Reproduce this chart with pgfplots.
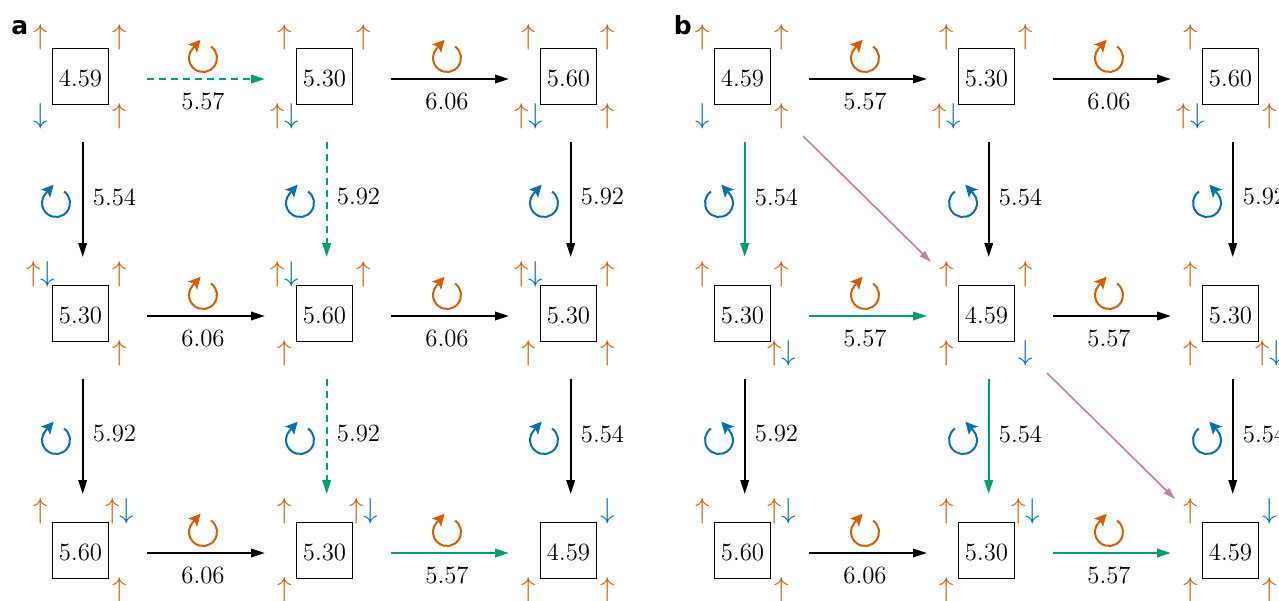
\documentclass[border=0pt]{standalone}
\usepackage{pgfplots}
\usepackage{pgfplotstable}
\pgfplotsset{compat=1.18}
\usepackage{fontspec}
\newfontfamily\dejavu{DejaVu Sans}
\usetikzlibrary{arrows.meta}
\definecolor{cor}{HTML}{D55E00}
\definecolor{cbl}{HTML}{0072B2}
\definecolor{cgr}{HTML}{009E73}
\definecolor{cpk}{HTML}{CC79A7}

% box centres
\pgfplotstableread{
x y
80.5 76.5
324.5 76.5
568.5 76.5
80.5 313.5
324.5 313.5
568.5 313.5
80.5 550.5
324.5 550.5
568.5 550.5
742.5 76.5
986.5 76.5
1230.5 76.5
742.5 313.5
986.5 313.5
1230.5 313.5
742.5 550.5
986.5 550.5
1230.5 550.5
}\boxes
% box values
\pgfplotstableread{
x y lab
80.5 78.3 4.59
324.5 78.3 5.30
568.5 78.3 5.60
80.5 315.3 5.30
324.5 315.3 5.60
568.5 315.3 5.30
80.5 552.3 5.60
324.5 552.3 5.30
568.5 552.3 4.59
742.5 78.3 4.59
986.5 78.3 5.30
1230.5 78.3 5.60
742.5 315.3 5.30
986.5 315.3 4.59
1230.5 315.3 5.30
742.5 552.3 5.60
986.5 552.3 5.30
1230.5 552.3 4.59
}\boxlabels
% horizontal transition values
\pgfplotstableread{
x y lab
203 101.5 5.57
447 101.5 6.06
203 338.5 6.06
447 338.5 6.06
203 575.5 6.06
447 575.5 5.57
865 101.5 5.57
1109 101.5 6.06
865 338.5 5.57
1109 338.5 5.57
865 575.5 6.06
1109 575.5 5.57
}\hlabels
% vertical transition values
\pgfplotstableread{
x y lab
92.5 197 5.54
336.5 197 5.92
580.5 197 5.92
92.5 434 5.92
336.5 434 5.92
580.5 434 5.54
754.5 197 5.54
998.5 197 5.54
1242.5 197 5.92
754.5 434 5.92
998.5 434 5.54
1242.5 434 5.54
}\vlabels
% single up arrows
\pgfplotstableread{
x y
40.5 37.5
119.5 37.5
119.5 116
284.5 37.5
363.5 37.5
528.5 37.5
607.5 37.5
607.5 116
119.5 274.5
119.5 353
363.5 274.5
284.5 353
607.5 274.5
528.5 353
607.5 353
40.5 511.5
119.5 590
284.5 511.5
284.5 590
528.5 590
607.5 590
702.5 37.5
781.5 37.5
781.5 116
946.5 37.5
1025.5 37.5
1190.5 37.5
1269.5 116
702.5 274.5
781.5 274.5
946.5 274.5
1025.5 274.5
946.5 353
1190.5 274.5
1190.5 353
702.5 511.5
781.5 590
946.5 511.5
946.5 590
1190.5 511.5
1190.5 590
1269.5 590
}\ups
% single down arrows
\pgfplotstableread{
x y
40.5 116
607.5 511.5
702.5 116
1025.5 353
1269.5 511.5
}\downs
% up-down pairs
\pgfplotstableread{
x y
284.5 116
528.5 116
40.5 274.5
284.5 274.5
528.5 274.5
119.5 511.5
363.5 511.5
946.5 116
1190.5 116
781.5 353
1269.5 353
781.5 511.5
1025.5 511.5
}\updowns

\newcommand{\numfont}{\fontsize{12.4}{14.5}\selectfont}
\newcommand{\arrfont}{\fontsize{13.5}{15}\selectfont}
\tikzset{
  blk/.style={black, line width=1.1pt, -{Triangle[length=7pt,width=4.2pt]}},
  grn/.style={cgr, line width=1.2pt, -{Triangle[length=7pt,width=4.2pt]}},
  grd/.style={cgr, line width=1.1pt, dash pattern=on 3.5pt off 2.5pt, -{Triangle[length=7pt,width=4.2pt]}},
  pnk/.style={cpk, line width=0.8pt, -{Triangle[length=6pt,width=3.6pt]}},
  rot/.style={line width=1pt, -{Stealth[length=6pt,width=6pt,inset=1.3pt]}},
}
\newcommand{\cwsym}[3]{\draw[#3,rot] ([shift={(55:7pt)}]axis cs:#1,#2) arc[start angle=55,end angle=-222,radius=7pt] -- ++(48:6pt);}
\newcommand{\ccwsym}[3]{\draw[#3,rot] ([shift={(125:7pt)}]axis cs:#1,#2) arc[start angle=125,end angle=402,radius=7pt] -- ++(132:6pt);}

\begin{document}
\begin{tikzpicture}
\begin{axis}[
  width=639.5pt, height=300pt, scale only axis,
  xmin=0, xmax=1279, ymin=0, ymax=600, y dir=reverse,
  hide axis, clip=true,
]
\coordinate (SW) at (axis cs:0,600);
\coordinate (NE) at (axis cs:1279,0);

% boxes
\addplot[draw=none, mark=none, nodes near coords={},
  every node near coord/.append style={draw=black, line width=0.65pt, minimum size=28pt, inner sep=0pt, anchor=center}]
  table {\boxes};
\addplot[draw=none, mark=none, nodes near coords, point meta=explicit symbolic,
  every node near coord/.append style={anchor=center, text=black, font=\numfont, inner sep=0pt}]
  table[meta=lab] {\boxlabels};
\addplot[draw=none, mark=none, nodes near coords, point meta=explicit symbolic,
  every node near coord/.append style={anchor=center, text=black, font=\numfont, inner sep=0pt}]
  table[meta=lab] {\hlabels};
\addplot[draw=none, mark=none, nodes near coords, point meta=explicit symbolic,
  every node near coord/.append style={anchor=west, text=black, font=\numfont, inner sep=0pt}]
  table[meta=lab] {\vlabels};

% corner spin arrows
\addplot[draw=none, mark=none, nodes near coords={$\uparrow$},
  every node near coord/.append style={anchor=center, text=cor, font=\arrfont, inner sep=0pt}]
  table {\ups};
\addplot[draw=none, mark=none, nodes near coords={$\downarrow$},
  every node near coord/.append style={anchor=center, text=cbl, font=\arrfont, inner sep=0pt}]
  table {\downs};
\addplot[draw=none, mark=none, nodes near coords={\textcolor{cor}{$\uparrow$}\textcolor{cbl}{$\downarrow$}},
  every node near coord/.append style={anchor=center, font=\arrfont, inner sep=0pt}]
  table {\updowns};

% panel a: horizontal
\addplot[grd] coordinates {(147,79) (265,79)};
\addplot[blk] coordinates {(391,79) (509,79)};
\addplot[blk] coordinates {(147,316) (265,316)};
\addplot[blk] coordinates {(391,316) (509,316)};
\addplot[blk] coordinates {(147,553) (265,553)};
\addplot[grn] coordinates {(391,553) (509,553)};
% panel a: vertical
\addplot[blk] coordinates {(82.7,142) (82.7,257)};
\addplot[grd] coordinates {(326.7,142) (326.7,257)};
\addplot[blk] coordinates {(570.7,142) (570.7,257)};
\addplot[blk] coordinates {(82.7,379) (82.7,494)};
\addplot[grd] coordinates {(326.7,379) (326.7,494)};
\addplot[blk] coordinates {(570.7,379) (570.7,494)};
% panel b: horizontal
\addplot[blk] coordinates {(809,79) (927,79)};
\addplot[blk] coordinates {(1053,79) (1171,79)};
\addplot[grn] coordinates {(809,316) (927,316)};
\addplot[blk] coordinates {(1053,316) (1171,316)};
\addplot[blk] coordinates {(809,553) (927,553)};
\addplot[grn] coordinates {(1053,553) (1171,553)};
% panel b: vertical
\addplot[grn] coordinates {(744.7,142) (744.7,257)};
\addplot[blk] coordinates {(988.7,142) (988.7,257)};
\addplot[blk] coordinates {(1232.7,142) (1232.7,257)};
\addplot[blk] coordinates {(744.7,379) (744.7,494)};
\addplot[grn] coordinates {(988.7,379) (988.7,494)};
\addplot[blk] coordinates {(1232.7,379) (1232.7,494)};
% panel b: diagonal
\addplot[pnk] coordinates {(803,136) (931,262)};
\addplot[pnk] coordinates {(1047,373) (1175,499)};

% rotation symbols: orange above horizontal arrows
\cwsym{203}{58}{cor}\cwsym{447}{58}{cor}
\cwsym{203}{295}{cor}\cwsym{447}{295}{cor}
\cwsym{203}{532}{cor}\cwsym{447}{532}{cor}
\cwsym{865}{58}{cor}\cwsym{1109}{58}{cor}
\cwsym{865}{295}{cor}\cwsym{1109}{295}{cor}
\cwsym{865}{532}{cor}\cwsym{1109}{532}{cor}
% blue beside vertical arrows
\cwsym{56}{203}{cbl}\cwsym{300}{203}{cbl}\cwsym{544}{203}{cbl}
\cwsym{56}{440}{cbl}\cwsym{300}{440}{cbl}\cwsym{544}{440}{cbl}
\ccwsym{719}{203}{cbl}\ccwsym{963}{203}{cbl}\ccwsym{1207}{203}{cbl}
\ccwsym{719}{440}{cbl}\ccwsym{963}{440}{cbl}\ccwsym{1207}{440}{cbl}

% panel letters
\node[anchor=base west, inner sep=0pt, font=\dejavu\bfseries\fontsize{12.5}{14}\selectfont] at (axis cs:11,34) {a};
\node[anchor=base west, inner sep=0pt, font=\dejavu\bfseries\fontsize{12.5}{14}\selectfont] at (axis cs:673.5,34) {b};
\end{axis}
\pgfresetboundingbox
\path[use as bounding box] (SW) rectangle (NE);
\end{tikzpicture}
\end{document}
